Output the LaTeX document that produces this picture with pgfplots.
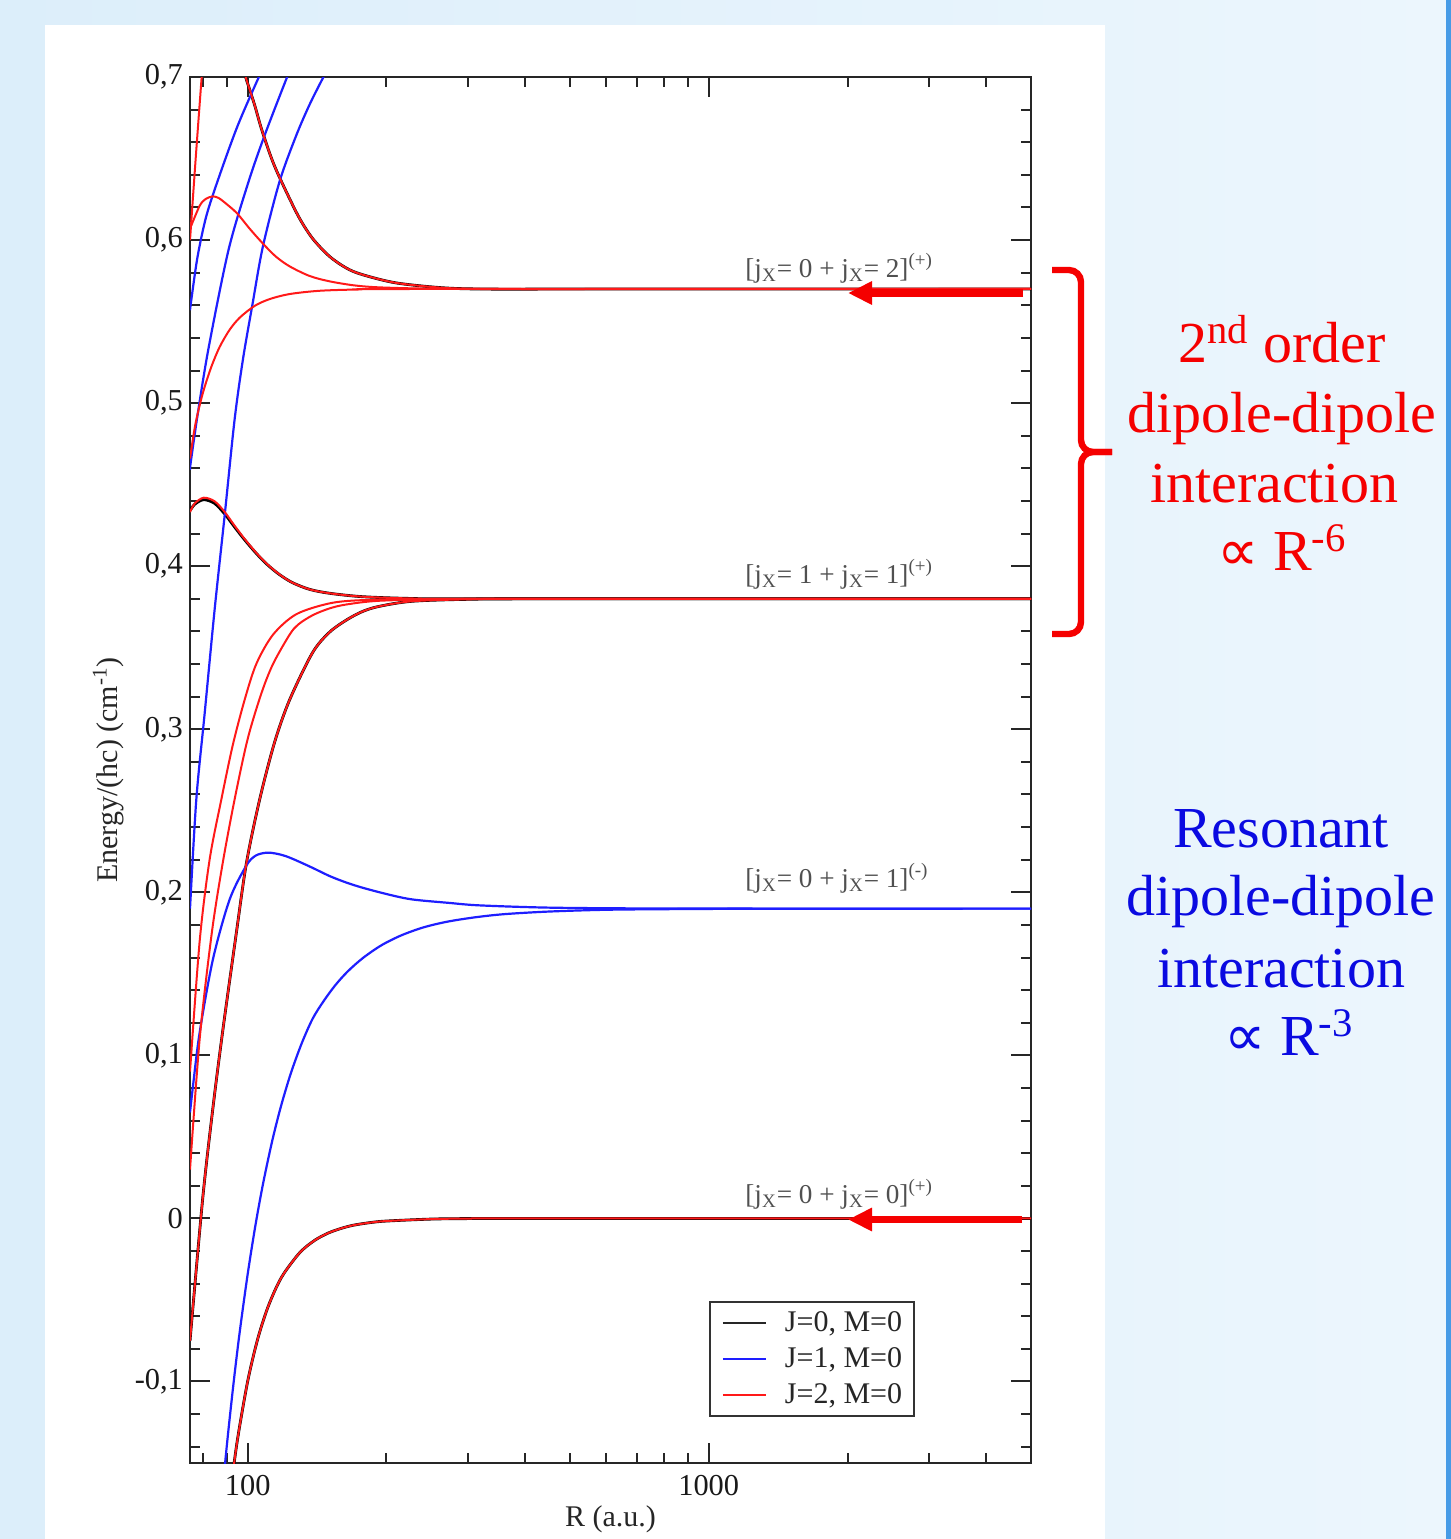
\documentclass[border=0pt]{standalone}
\usepackage{fontspec}
\setmainfont{Liberation Serif}
\newfontfamily\djv{DejaVu Sans}
\usepackage{pgfplots}
\pgfplotsset{compat=1.18}
\usetikzlibrary{arrows.meta}
\definecolor{bgl}{RGB}{220,238,250}
\definecolor{bgr}{RGB}{236,246,253}
\definecolor{edgeblue}{RGB}{70,155,230}
\definecolor{cblue}{RGB}{30,30,255}
\definecolor{cred}{RGB}{255,25,25}
\definecolor{tred}{RGB}{245,0,0}
\definecolor{tblue}{RGB}{10,10,225}
\definecolor{lgray}{RGB}{80,80,80}
\tikzset{
  blk/.style={black, line width=1.4pt},
  rd/.style={cred, line width=1pt},
  bl/.style={cblue, line width=1.1pt},
}
\newcommand\sx{\textsubscript{X}}
\begin{document}
\begin{tikzpicture}[x=0.5pt,y=-0.5pt]
\shade[left color=bgl,right color=bgr] (0,0) rectangle (1451,1539);
\fill[white] (45,25) rectangle (1105,1539);
\fill[edgeblue] (1446,0) rectangle (1451,1539);
\coordinate (LL) at (190,1463);
\begin{axis}[
  at={(LL)}, anchor=south west,
  width=420.5pt, height=693pt, scale only axis,
  xmode=log, xmin=75, xmax=5000, ymin=-0.15, ymax=0.7,
  xtick={100,1000}, xticklabels={100,1000},
  minor xtick={80,90,200,300,400,500,600,700,800,900,2000,3000,4000},
  ytick={-0.1,0,0.1,0.2,0.3,0.4,0.5,0.6,0.7},
  minor ytick={-0.14,-0.12,-0.08,-0.06,-0.04,-0.02,0.02,0.04,0.06,0.08,0.12,0.14,0.16,0.18,0.22,0.24,0.26,0.28,0.32,0.34,0.36,0.38,0.42,0.44,0.46,0.48,0.52,0.54,0.56,0.58,0.62,0.64,0.66,0.68},
  major tick length=10pt, minor tick length=5pt,
  tick style={line width=1pt, black!85},
  axis line style={line width=1.3pt, black!85},
  /pgf/number format/assume math mode=true,
  yticklabel style={/pgf/number format/fixed, /pgf/number format/precision=1, /pgf/number format/use comma},
  xticklabel style={yshift=-2.5pt},
  ticklabel style={font=\fontsize{15.2}{18}\selectfont, text=black!90},
  xlabel={R (a.u.)}, ylabel={Energy/(hc) (cm\textsuperscript{-1})},
  label style={font=\fontsize{15}{18}\selectfont, text=black!85},
  xlabel style={at={(axis description cs:0.5,-0.0303)}, anchor=north, inner sep=0pt},
  ylabel style={at={(axis description cs:-0.0785,0.5)}, anchor=south, inner sep=0pt},
  legend style={at={(0.6171,0.1169)}, anchor=north west, draw=black!80, line width=1pt, fill=white,
    font=\fontsize{15}{18}\selectfont, inner xsep=6pt, inner ysep=3pt, row sep=2.3pt, column sep=9pt,
    nodes={inner xsep=0pt, inner ysep=2pt, text=black!85}},
  legend cell align=left,
  legend image code/.code={\draw[#1] (0pt,0pt) -- (21.5pt,0pt);},
]
\addlegendimage{black!85, line width=1pt}\addlegendentry{J=0, M=0}
\addlegendimage{cblue, line width=1pt}\addlegendentry{J=1, M=0}
\addlegendimage{cred, line width=1pt}\addlegendentry{J=2, M=0}

% ---------- J=0 (black) ----------
\addplot[blk, smooth, forget plot] coordinates {(92,-0.165)(95,-0.136)(100,-0.1)(105,-0.0746)(110,-0.0564)(115,-0.0432)(120,-0.0335)(130,-0.0207)(140,-0.0133)(150,-0.0088)(160,-0.0060)(170,-0.0041)(185,-0.0025)(200,-0.0016)(250,-0.0004)(300,-0.0001)(400,0)(5000,0)};
\addplot[blk, smooth, forget plot] coordinates {(75,-0.075)(79.9,0.012)(84.1,0.068)(88.4,0.116)(94.5,0.175)(99.4,0.218)(106.2,0.257)(114.4,0.292)(123.3,0.318)(138.3,0.347)(150.5,0.3595)(163.8,0.367)(177.4,0.3722)(193.1,0.3754)(227.6,0.3785)(302.4,0.3797)(450,0.38)(5000,0.38)};
\addplot[blk, smooth, forget plot] coordinates {(75,0.434)(76.8,0.438)(80.3,0.4408)(84.8,0.4385)(89.2,0.432)(93.7,0.424)(98.5,0.4162)(104.6,0.4076)(110.5,0.4008)(117.3,0.3948)(125.1,0.3899)(136.2,0.3858)(150.5,0.3834)(177.4,0.3813)(227.6,0.3802)(317.8,0.38)(5000,0.38)};
\addplot[blk, smooth, forget plot] coordinates {(96,0.714)(99,0.70)(103.5,0.683)(107.2,0.668)(112.7,0.650)(117.9,0.637)(128.9,0.6145)(138.3,0.601)(150.5,0.590)(163.8,0.5828)(177.4,0.5788)(210.2,0.5737)(269.6,0.5706)(351.2,0.5699)(578,0.57)(5000,0.57)};

% ---------- J=1 (blue) ----------
\addplot[bl, smooth, forget plot] coordinates {(75,0.557)(75.5,0.5635)(77.9,0.590)(81.4,0.615)(87.0,0.640)(95.1,0.670)(104.6,0.697)(107.2,0.703)};
\addplot[bl, smooth, forget plot] coordinates {(75,0.459)(75.25,0.4635)(78.0,0.494)(82.3,0.534)(90.9,0.594)(100.5,0.636)(109.1,0.665)(121.4,0.699)(123.3,0.703)};
\addplot[bl, smooth, forget plot] coordinates {(75,0.19)(77.4,0.257)(80.7,0.310)(84.8,0.3734)(89.2,0.4317)(93.7,0.49)(97.7,0.527)(102.5,0.561)(107.9,0.596)(117.3,0.636)(127.4,0.664)(136.2,0.683)(145.4,0.699)(147.5,0.702)};
\addplot[bl, smooth, forget plot] coordinates {(75,0.065)(76.1,0.081)(78.7,0.114)(84.1,0.159)(91.4,0.1956)(99.4,0.2165)(104.1,0.2225)(109.8,0.2243)(115,0.2238)(120.9,0.2222)(127.4,0.2196)(138.3,0.2150)(150.5,0.2100)(162.9,0.2062)(177.6,0.2028)(203,0.1985)(227.9,0.1956)(273.7,0.1935)(317.8,0.192)(450.5,0.1906)(741,0.1901)(1566,0.19)(5000,0.19)};
\addplot[bl, smooth, forget plot] coordinates {(87,-0.185)(90,-0.141)(93,-0.1034)(96,-0.0708)(100,-0.0343)(104,-0.004)(108,0.0213)(113,0.0473)(118,0.0684)(124,0.0888)(131,0.1074)(138.3,0.1224)(146,0.1331)(155,0.1431)(165,0.1516)(178,0.1598)(195,0.1675)(215,0.1735)(240,0.1784)(270,0.1819)(310,0.1846)(360,0.1866)(450,0.1882)(600,0.1893)(850,0.1897)(1300,0.1899)(5000,0.19)};

% ---------- J=2 (red) ----------
\addplot[rd, smooth, forget plot] coordinates {(92,-0.165)(95,-0.136)(100,-0.1)(105,-0.0746)(110,-0.0564)(115,-0.0432)(120,-0.0335)(130,-0.0207)(140,-0.0133)(150,-0.0088)(160,-0.0060)(170,-0.0041)(185,-0.0025)(200,-0.0016)(250,-0.0004)(300,-0.0001)(400,0)(5000,0)};
\addplot[rd, smooth, forget plot] coordinates {(75,-0.075)(79.9,0.012)(84.1,0.068)(88.4,0.116)(94.5,0.175)(99.4,0.218)(106.2,0.257)(114.4,0.292)(123.3,0.318)(138.3,0.347)(150.5,0.3595)(163.8,0.367)(177.4,0.3722)(193.1,0.3754)(227.6,0.3785)(302.4,0.3797)(450,0.38)(5000,0.38)};
\addplot[rd, smooth, forget plot] coordinates {(75,0.03)(78.7,0.11)(83.6,0.175)(88.3,0.218)(93.7,0.257)(100,0.294)(107.1,0.322)(113.5,0.340)(123.3,0.358)(128.8,0.3643)(138.5,0.370)(150.5,0.3741)(163.6,0.3765)(193.1,0.3788)(273.7,0.3798)(450,0.38)(5000,0.38)};
\addplot[rd, smooth, forget plot] coordinates {(75,0.09)(78.7,0.17)(82.7,0.22)(87.7,0.257)(92.8,0.290)(98.5,0.318)(104.4,0.340)(113.5,0.358)(127.4,0.3705)(150.5,0.3772)(177.6,0.3792)(247.7,0.3799)(350,0.38)(5000,0.38)};
\addplot[rd, smooth, forget plot] coordinates {(75,0.4332)(76.8,0.4385)(80.3,0.4420)(84.8,0.4398)(89.2,0.4332)(93.7,0.4248)(98.5,0.4167)(104.6,0.4079)(110.5,0.4010)(117.3,0.3949)(125.1,0.3899)(136.2,0.3858)(150.5,0.3834)(177.4,0.3813)(227.6,0.3802)(317.8,0.38)(5000,0.38)};
\addplot[rd, smooth, forget plot] coordinates {(75,0.466)(76.8,0.485)(78.7,0.4987)(80.7,0.5101)(83.6,0.523)(87.0,0.5346)(91.4,0.545)(96.1,0.5524)(103.5,0.5596)(111.6,0.5638)(123.3,0.5669)(143.2,0.5689)(174.8,0.5697)(235.7,0.57)(5000,0.57)};
\addplot[rd, smooth, forget plot] coordinates {(75,0.607)(78.7,0.621)(81.1,0.6252)(84.0,0.6268)(86.5,0.6258)(89.2,0.623)(94.7,0.6166)(101,0.607)(107.8,0.598)(115,0.590)(123.3,0.5839)(136.2,0.578)(150.5,0.5747)(170.4,0.5722)(193.1,0.571)(247.7,0.5702)(351.2,0.57)(5000,0.57)};
\addplot[rd, smooth, forget plot] coordinates {(96,0.714)(99,0.70)(103.5,0.683)(107.2,0.668)(112.7,0.650)(117.9,0.637)(128.9,0.6145)(138.3,0.601)(150.5,0.590)(163.8,0.5828)(177.4,0.5788)(210.2,0.5737)(269.6,0.5706)(351.2,0.5699)(578,0.57)(5000,0.57)};
\addplot[rd, smooth, forget plot] coordinates {(75,0.600)(77.15,0.650)(79.5,0.700)(80.5,0.72)};
\end{axis}

% state labels
\begin{scope}[every node/.style={anchor=base west, inner sep=0pt, text=lgray, font=\fontsize{13.6}{16}\selectfont}]
\node at (745,277) {[j\sx= 0 + j\sx= 2]\textsuperscript{(+)}};
\node at (745,583) {[j\sx= 1 + j\sx= 1]\textsuperscript{(+)}};
\node at (745,887) {[j\sx= 0 + j\sx= 1]\textsuperscript{(-)}};
\node at (745,1203) {[j\sx= 0 + j\sx= 0]\textsuperscript{(+)}};
\end{scope}

% arrows
\draw[tred, line width=3.7pt, -{Triangle[length=12pt,width=11pt]}] (1023,293) -- (848,293);
\draw[tred, line width=3.7pt, -{Triangle[length=12pt,width=11pt]}] (1022,1219.5) -- (848,1219.5);

% brace
\draw[tred, line width=3.2pt, rounded corners=6pt] (1052,270) -- (1081,270) -- (1081,452) -- (1112,452);
\draw[tred, line width=3.2pt, rounded corners=6pt] (1052,634) -- (1081,634) -- (1081,452) -- (1112,452);

% right-hand texts
\begin{scope}[every node/.style={anchor=base, inner sep=0pt, font=\fontsize{29}{34}\selectfont}]
\node[text=tred] at (1282,362) {2\textsuperscript{nd} order};
\node[text=tred] at (1282,432) {dipole-dipole};
\node[text=tred] at (1274,502) {interaction};
\node[text=tred] at (1282,570) {{\djv ∝} R\textsuperscript{-6}};
\node[text=tblue] at (1281,847) {Resonant};
\node[text=tblue] at (1281,915) {dipole-dipole};
\node[text=tblue] at (1281,987) {interaction};
\node[text=tblue] at (1289,1055) {{\djv ∝} R\textsuperscript{-3}};
\end{scope}

\pgfresetboundingbox
\path[use as bounding box] (0,0) rectangle (1451,1539);
\end{tikzpicture}
\end{document}
